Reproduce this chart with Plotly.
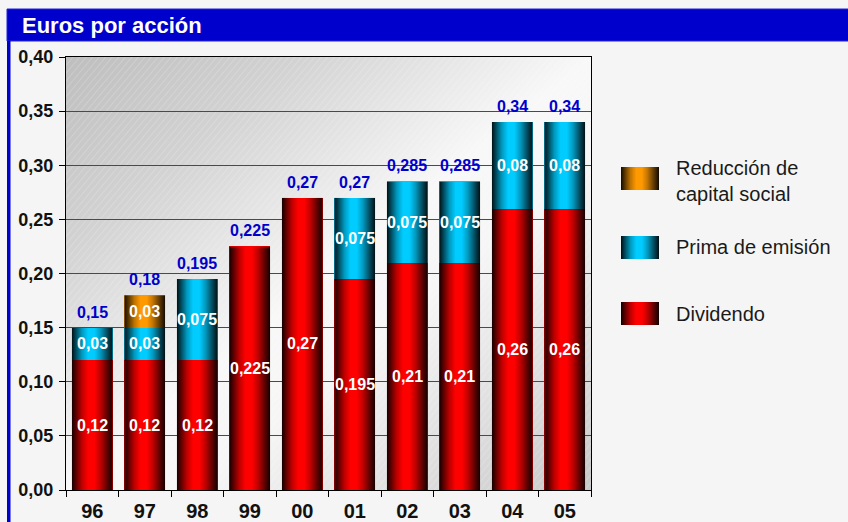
import base64
import plotly.graph_objects as go

# ---- data -------------------------------------------------------------
years = ["96", "97", "98", "99", "00", "01", "02", "03", "04", "05"]
dividendo = [0.12, 0.12, 0.12, 0.225, 0.27, 0.195, 0.21, 0.21, 0.26, 0.26]
prima_emision = [0.03, 0.03, 0.075, 0, 0, 0.075, 0.075, 0.075, 0.08, 0.08]
reduccion_capital = [0, 0.03, 0, 0, 0, 0, 0, 0, 0, 0]

series_values = [dividendo, prima_emision, reduccion_capital]
series_names = ["Dividendo", "Prima de emisión", "Reducción de<br>capital social"]
series_colors = ["#ff0000", "#00ccff", "#ff9900"]

y_ticks = [0, 0.05, 0.10, 0.15, 0.20, 0.25, 0.30, 0.35, 0.40]

# ---- page geometry ----------------------------------------------------
W, H = 848, 522
ML, MR, MT, MB = 66, 257, 57, 32
PW, PH = W - ML - MR, H - MT - MB
BAR_W = 0.78
FONT = "Arial, 'Liberation Sans', sans-serif"
BLUE = "#0000cc"


def px(x):
    return (x - ML) / PW


def py(y):
    return (H - MB - y) / PH


def svg_uri(svg):
    return "data:image/svg+xml;base64," + base64.b64encode(svg.encode("utf-8")).decode()


def fmt(v):
    return f"{round(v, 3):g}".replace(".", ",")


# plot-area fill: diagonal grey-white-grey gradient with fine hatching
BG_SVG = svg_uri(
    '<svg xmlns="http://www.w3.org/2000/svg" width="525" height="433" '
    'viewBox="0 0 525 433" preserveAspectRatio="none">'
    '<defs><linearGradient id="g" x1="0" y1="0" x2="1" y2="1">'
    '<stop offset="0" stop-color="#bebebe"/>'
    '<stop offset="0.22" stop-color="#d2d2d2"/>'
    '<stop offset="0.5" stop-color="#f8f8f8"/>'
    '<stop offset="0.62" stop-color="#f6f6f6"/>'
    '<stop offset="1" stop-color="#c8c8c8"/>'
    '</linearGradient>'
    '<pattern id="h" width="5" height="5" patternUnits="userSpaceOnUse" '
    'patternTransform="rotate(40)">'
    '<line x1="0" y1="0" x2="0" y2="5" stroke="#ffffff" stroke-opacity="0.35" '
    'stroke-width="1"/></pattern></defs>'
    '<rect width="525" height="433" fill="url(#g)"/>'
    '<rect width="525" height="433" fill="url(#h)"/></svg>'
)

# cylinder shading laid over each bar
SHADE_SVG = svg_uri(
    '<svg xmlns="http://www.w3.org/2000/svg" width="100" height="100" '
    'viewBox="0 0 100 100" preserveAspectRatio="none">'
    '<defs><linearGradient id="s" x1="0" y1="0" x2="1" y2="0">'
    '<stop offset="0" stop-color="#000" stop-opacity="0.93"/>'
    '<stop offset="0.1" stop-color="#000" stop-opacity="0.65"/>'
    '<stop offset="0.25" stop-color="#000" stop-opacity="0.25"/>'
    '<stop offset="0.4" stop-color="#000" stop-opacity="0"/>'
    '<stop offset="0.55" stop-color="#000" stop-opacity="0"/>'
    '<stop offset="0.7" stop-color="#000" stop-opacity="0.25"/>'
    '<stop offset="0.86" stop-color="#000" stop-opacity="0.62"/>'
    '<stop offset="1" stop-color="#000" stop-opacity="0.93"/>'
    '</linearGradient></defs>'
    '<rect width="100" height="100" fill="url(#s)"/></svg>'
)

fig = go.Figure()

for name, vals, col in zip(series_names, series_values, series_colors):
    fig.add_trace(go.Bar(
        x=years, y=vals, name=name, width=BAR_W,
        marker=dict(color=col, line=dict(width=0)),
        hoverinfo="skip", showlegend=False,
    ))

totals = [sum(v) for v in zip(*series_values)]

images = [dict(source=BG_SVG, xref="paper", yref="paper", x=0, y=1,
               sizex=1, sizey=1, sizing="stretch", xanchor="left",
               yanchor="top", layer="below")]
annotations = []

for i, tot in enumerate(totals):
    images.append(dict(source=SHADE_SVG, xref="x", yref="y",
                       x=i - BAR_W / 2, y=tot, sizex=BAR_W, sizey=tot,
                       sizing="stretch", xanchor="left", yanchor="top",
                       layer="above"))
    base = 0
    for vals in series_values:
        v = vals[i]
        if v > 0:
            annotations.append(dict(
                x=i, y=base + v / 2, xref="x", yref="y", text=fmt(v),
                showarrow=False,
                font=dict(family=FONT, size=16, color="white", weight="bold"),
            ))
        base += v
    annotations.append(dict(
        x=i, y=tot, xref="x", yref="y", text=fmt(tot), showarrow=False,
        yanchor="bottom", yshift=5,
        font=dict(family=FONT, size=16, color=BLUE, weight="bold"),
    ))

# header band title
annotations.append(dict(
    x=px(20), y=py(25.5), xref="paper", yref="paper", text="Euros por acción",
    showarrow=False, xanchor="left", yanchor="middle",
    font=dict(family=FONT, size=22, color="white", weight="bold"),
))

shapes = [
    dict(type="rect", xref="paper", yref="paper", x0=px(7), x1=px(852),
         y0=py(41), y1=py(9), fillcolor=BLUE, line=dict(width=1, color="#2222dd"),
         layer="below"),
    dict(type="rect", xref="paper", yref="paper", x0=px(7), x1=px(10.5),
         y0=py(530), y1=py(41), fillcolor=BLUE, line=dict(width=0),
         layer="below"),
]

# legend (top to bottom: reducción, prima, dividendo)
legend_rows = [(2, 178.5), (1, 247.5), (0, 313.5)]
for idx, yc in legend_rows:
    shapes.append(dict(type="rect", xref="paper", yref="paper",
                       x0=px(621), x1=px(659), y0=py(yc + 11.5), y1=py(yc - 11.5),
                       fillcolor=series_colors[idx], line=dict(width=0),
                       layer="below"))
    images.append(dict(source=SHADE_SVG, xref="paper", yref="paper",
                       x=px(621), y=py(yc - 11.5), sizex=38 / PW, sizey=23 / PH,
                       sizing="stretch", xanchor="left", yanchor="top",
                       layer="above"))
    annotations.append(dict(
        x=px(674), y=py(yc + (2 if idx == 2 else 0)), xref="paper", yref="paper",
        text=series_names[idx], showarrow=False, xanchor="left", yanchor="middle",
        align="left", font=dict(family=FONT, size=20, color="#1a1a1a"),
    ))

fig.update_layout(
    width=W, height=H,
    margin=dict(l=ML, r=MR, t=MT, b=MB, autoexpand=False),
    paper_bgcolor="#f5f5f5", plot_bgcolor="rgba(0,0,0,0)",
    barmode="stack", separators=",.",
    images=images, annotations=annotations, shapes=shapes,
    showlegend=False,
    xaxis=dict(
        type="category", tickson="boundaries", ticks="outside", ticklen=6,
        tickcolor="black", showline=True, linecolor="black", linewidth=1,
        mirror=True, showgrid=False, ticklabelstandoff=3,
        tickfont=dict(family=FONT, size=20, color="#111", weight="bold"),
        range=[-0.5, len(years) - 0.5], fixedrange=True,
    ),
    yaxis=dict(
        range=[0, 0.4], tickvals=y_ticks, tickformat=".2f", ticks="outside",
        ticklen=6, tickcolor="black", showline=True, linecolor="black",
        linewidth=1, mirror=True, showgrid=True, gridcolor="#4a4a4a",
        gridwidth=1, zeroline=False, ticklabelstandoff=2,
        tickfont=dict(family=FONT, size=18, color="#111", weight="bold"),
        fixedrange=True,
    ),
)

fig.write_html("out.html")
